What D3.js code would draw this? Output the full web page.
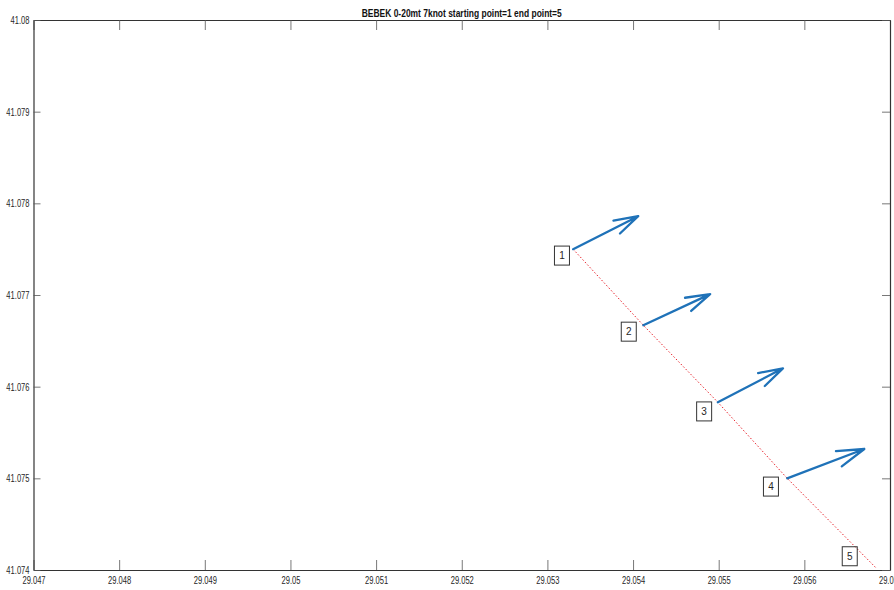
<!DOCTYPE html>
<html>
<head>
<meta charset="utf-8">
<script src="https://cdn.jsdelivr.net/npm/d3@7"></script>
<style>
  body { margin: 0; background: #fff; }
  svg { display: block; }
  text { font-family: "Liberation Sans", Arial, Helvetica, sans-serif; }
  .tick-label { font-size: 10.5px; fill: #262626; }
  .title { font-size: 11px; font-weight: bold; fill: #111; }
  .point-label { font-size: 10px; fill: #262626; }
</style>
</head>
<body>
<svg></svg>
<script>
//begin: data
var titleText = "BEBEK 0-20mt 7knot starting point=1 end point=5";

var pointLon = [29.0533, 29.05412, 29.05499, 29.0558, 29.05684];
var pointLat = [41.0775, 41.07667, 41.07583, 41.0750, 41.07402];

// current vectors (quiver u, v) at points 1..4
var currentU = [0.00076, 0.00078, 0.00076, 0.00090];
var currentV = [0.00036, 0.00034, 0.00037, 0.00032];

var labelNames = ["1", "2", "3", "4", "5"];
var labelLon = [29.05317, 29.05395, 29.05483, 29.05561, 29.05653];
var labelLat = [41.07743, 41.07660, 41.07573, 41.07491, 41.07415];

var xTicks = [29.047, 29.048, 29.049, 29.05, 29.051, 29.052, 29.053, 29.054, 29.055, 29.056, 29.057];
var xTickLabels = ["29.047", "29.048", "29.049", "29.05", "29.051", "29.052", "29.053", "29.054", "29.055", "29.056", "29.057"];
var yTicks = [41.074, 41.075, 41.076, 41.077, 41.078, 41.079, 41.08];
var yTickLabels = ["41.074", "41.075", "41.076", "41.077", "41.078", "41.079", "41.08"];
//end: data

//begin: layout conf.
var svgWidth = 894,
    svgHeight = 590,
    plot = {left: 33.5, right: 890, top: 20, bottom: 570},
    textSqueeze = 0.72;   // the source picture is squeezed horizontally
//end: layout conf.

var svg = d3.select("svg")
    .attr("width", svgWidth)
    .attr("height", svgHeight);

var x = d3.scaleLinear().domain([29.047, 29.057]).range([plot.left, plot.right]);
var y = d3.scaleLinear().domain([41.074, 41.08]).range([plot.bottom, plot.top]);

// axes, MATLAB style: box on, ticks pointing inward
var fmtX = function(d, i) { return xTickLabels[i]; };
var fmtY = function(d, i) { return yTickLabels[i]; };

svg.append("g")
    .attr("transform", "translate(0," + plot.bottom + ")")
    .call(d3.axisBottom(x).tickValues(xTicks).tickFormat(fmtX).tickSizeInner(-10).tickSizeOuter(0).tickPadding(7))
    .call(styleAxis);

svg.append("g")
    .attr("transform", "translate(0," + plot.top + ")")
    .call(d3.axisTop(x).tickValues(xTicks).tickFormat("").tickSizeInner(-10).tickSizeOuter(0))
    .call(styleAxis);

svg.append("g")
    .attr("transform", "translate(" + plot.left + ",0)")
    .call(d3.axisLeft(y).tickValues(yTicks).tickFormat(fmtY).tickSizeInner(-7).tickSizeOuter(0).tickPadding(4))
    .call(styleAxis);

svg.append("g")
    .attr("transform", "translate(" + plot.right + ",0)")
    .call(d3.axisRight(y).tickValues(yTicks).tickFormat("").tickSizeInner(-8).tickSizeOuter(0))
    .call(styleAxis);

function styleAxis(g) {
  g.select(".domain").attr("stroke", "#333").attr("stroke-width", 1.2);
  g.selectAll(".tick line").attr("stroke", "#555").attr("stroke-width", 0.8);
  g.selectAll(".tick text")
      .attr("class", "tick-label")
      .attr("font-family", null)
      .attr("font-size", null);
  g.attr("font-family", null).attr("font-size", null);
}

// squeeze text horizontally (keeps its anchor)
function squeeze(sel, k) {
  sel.each(function() {
    var w = this.getComputedTextLength();
    if (w > 0) {
      d3.select(this)
          .attr("textLength", w * k)
          .attr("lengthAdjust", "spacingAndGlyphs");
    }
  });
}

squeeze(svg.selectAll(".tick-label"), textSqueeze);

// title
svg.append("text")
    .attr("class", "title")
    .attr("x", (plot.left + plot.right) / 2)
    .attr("y", 16.5)
    .attr("text-anchor", "middle")
    .attr("textLength", 200)
    .attr("lengthAdjust", "spacingAndGlyphs")
    .text(titleText);

// track (red dotted)
var points = pointLon.map(function(d, i) { return [d, pointLat[i]]; });
var line = d3.line()
    .x(function(d) { return x(d[0]); })
    .y(function(d) { return y(d[1]); });

svg.append("path")
    .datum(points)
    .attr("d", line)
    .attr("fill", "none")
    .attr("stroke", "#e8212a")
    .attr("stroke-width", 1)
    .attr("stroke-dasharray", "1.5,2");

// quiver arrows
var alpha = 0.33, beta = 0.3;
var arrows = svg.append("g").classed("quiver", true)
    .selectAll("path")
    .data(currentU)
    .enter()
    .append("path")
    .attr("d", function(u, i) {
      var x0 = x(pointLon[i]), y0 = y(pointLat[i]);
      var x1 = x(pointLon[i] + u), y1 = y(pointLat[i] + currentV[i]);
      var dx = x1 - x0, dy = y1 - y0;
      var h1 = [x1 - alpha * (dx + beta * dy), y1 - alpha * (dy - beta * dx)];
      var h2 = [x1 - alpha * (dx - beta * dy), y1 - alpha * (dy + beta * dx)];
      return "M" + [x0, y0] + "L" + [x1, y1] + "M" + h1 + "L" + [x1, y1] + "L" + h2;
    })
    .attr("fill", "none")
    .attr("stroke", "#1f72b8")
    .attr("stroke-width", 2.3)
    .attr("stroke-linecap", "round")
    .attr("stroke-linejoin", "round");

// numbered point labels with box
var labels = svg.append("g").classed("labels", true)
    .selectAll("g")
    .data(labelNames)
    .enter()
    .append("g")
    .attr("transform", function(d, i) {
      return "translate(" + [x(labelLon[i]), y(labelLat[i])] + ")";
    });

labels.append("rect")
    .attr("x", -7.5)
    .attr("y", -9.5)
    .attr("width", 15)
    .attr("height", 19)
    .attr("fill", "none")
    .attr("stroke", "#333")
    .attr("stroke-width", 1);

labels.append("text")
    .attr("class", "point-label")
    .attr("text-anchor", "middle")
    .attr("dy", "0.35em")
    .text(function(d) { return d; });
</script>
</body>
</html>
